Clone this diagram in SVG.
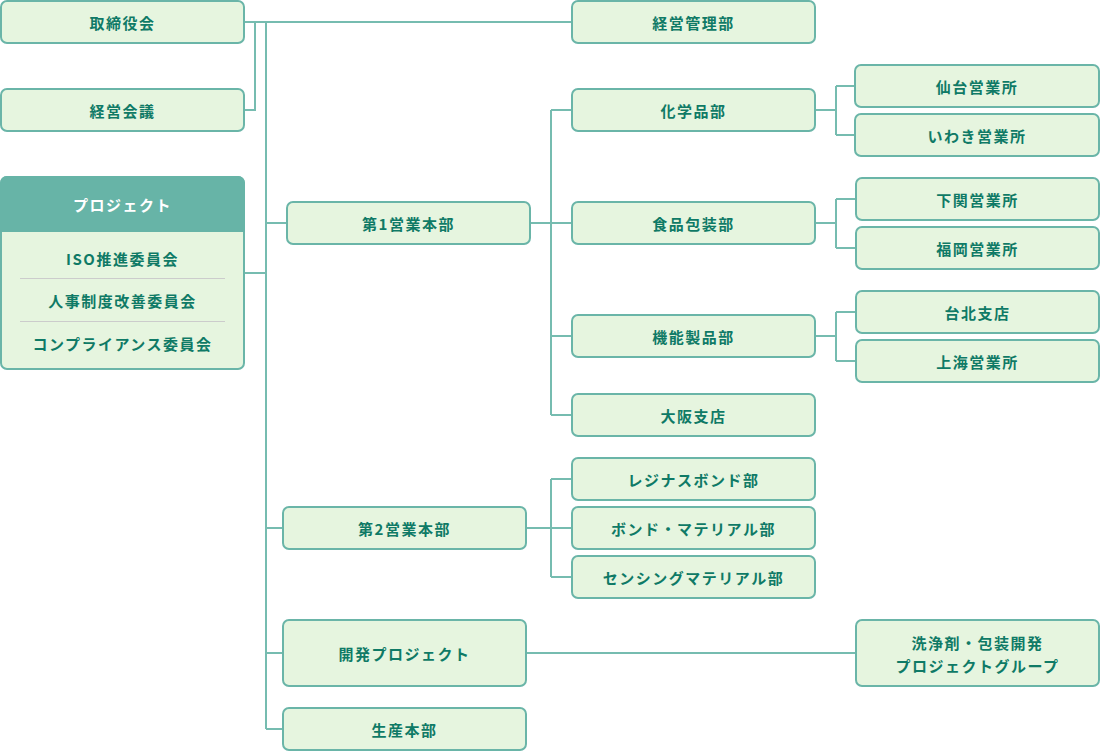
<svg xmlns="http://www.w3.org/2000/svg" width="1100" height="751" viewBox="0 0 1100 751">
<style>
.box{fill:#e6f5df;stroke:#6ab5a8;stroke-width:2}
.t{font-family:"Noto Sans CJK JP","Noto Sans",sans-serif;font-weight:700;font-size:15px;fill:#0f7a66;text-anchor:middle;dominant-baseline:central;letter-spacing:1.5px}
.w{fill:#ffffff}
.ln{fill:none;stroke:#76bcb0;stroke-width:2}
.dv{stroke:#cccccc;stroke-width:1}
</style>
<rect width="1100" height="751" fill="#ffffff"/>
<g id="connectors">
<path class="ln" d="M244 22H572M255 22V110H244M266 22V729"/>
<path class="ln" d="M244 273H266M266 223H287M530 223H572M551 110V415M551 110H572M551 336H572M551 415H572"/>
<path class="ln" d="M815 110H836M836 86V135M836 86H855M836 135H855"/>
<path class="ln" d="M815 223H836M836 199V248M836 199H856M836 248H856"/>
<path class="ln" d="M815 336H836M836 312V361M836 312H856M836 361H856"/>
<path class="ln" d="M266 528H283M526 528H572M551 479V577M551 479H572M551 577H572"/>
<path class="ln" d="M266 653H283M526 653H856M266 729H283"/>
</g>
<g id="torishimariyakukai"><rect class="box" x="1" y="1" width="243" height="42" rx="6"/><text class="t" x="122.5" y="22">取締役会</text></g>
<g id="keieikaigi"><rect class="box" x="1" y="89" width="243" height="42" rx="6"/><text class="t" x="122.5" y="110">経営会議</text></g>
<g id="project">
<rect class="box" x="1" y="177" width="243" height="192" rx="6"/>
<path d="M1 231V183a6 6 0 0 1 6-6H238a6 6 0 0 1 6 6V231Z" fill="#67b4a7" stroke="#67b4a7" stroke-width="2"/>
<text class="t w" x="122.5" y="204">プロジェクト</text>
<text class="t" x="122.5" y="258">ISO推進委員会</text>
<line class="dv" x1="20" y1="278.5" x2="225" y2="278.5"/>
<text class="t" x="122.5" y="300">人事制度改善委員会</text>
<line class="dv" x1="20" y1="321.5" x2="225" y2="321.5"/>
<text class="t" x="122.5" y="343">コンプライアンス委員会</text>
</g>
<g id="keieikanribu"><rect class="box" x="572" y="1" width="243" height="42" rx="6"/><text class="t" x="693.5" y="22">経営管理部</text></g>
<g id="dai1"><rect class="box" x="287" y="202" width="243" height="42" rx="6"/><text class="t" x="408.5" y="223">第1営業本部</text></g>
<g id="kagakuhinbu"><rect class="box" x="572" y="89" width="243" height="42" rx="6"/><text class="t" x="693.5" y="110">化学品部</text></g>
<g id="shokuhin"><rect class="box" x="572" y="202" width="243" height="42" rx="6"/><text class="t" x="693.5" y="223">食品包装部</text></g>
<g id="kinou"><rect class="box" x="572" y="315" width="243" height="42" rx="6"/><text class="t" x="693.5" y="336">機能製品部</text></g>
<g id="osaka"><rect class="box" x="572" y="394" width="243" height="42" rx="6"/><text class="t" x="693.5" y="415">大阪支店</text></g>
<g id="sendai"><rect class="box" x="855" y="65" width="244" height="42" rx="6"/><text class="t" x="977" y="86">仙台営業所</text></g>
<g id="iwaki"><rect class="box" x="855" y="114" width="244" height="42" rx="6"/><text class="t" x="977" y="135">いわき営業所</text></g>
<g id="shimonoseki"><rect class="box" x="856" y="178" width="243" height="42" rx="6"/><text class="t" x="977.5" y="199">下関営業所</text></g>
<g id="fukuoka"><rect class="box" x="856" y="227" width="243" height="42" rx="6"/><text class="t" x="977.5" y="248">福岡営業所</text></g>
<g id="taipei"><rect class="box" x="856" y="291" width="243" height="42" rx="6"/><text class="t" x="977.5" y="312">台北支店</text></g>
<g id="shanghai"><rect class="box" x="856" y="340" width="243" height="42" rx="6"/><text class="t" x="977.5" y="361">上海営業所</text></g>
<g id="dai2"><rect class="box" x="283" y="507" width="243" height="42" rx="6"/><text class="t" x="404.5" y="528">第2営業本部</text></g>
<g id="resinous"><rect class="box" x="572" y="458" width="243" height="42" rx="6"/><text class="t" x="693.5" y="479">レジナスボンド部</text></g>
<g id="bond"><rect class="box" x="572" y="507" width="243" height="42" rx="6"/><text class="t" x="693.5" y="528">ボンド・マテリアル部</text></g>
<g id="sensing"><rect class="box" x="572" y="556" width="243" height="42" rx="6"/><text class="t" x="693.5" y="577">センシングマテリアル部</text></g>
<g id="kaihatsu"><rect class="box" x="283" y="620" width="243" height="66" rx="6"/><text class="t" x="404.5" y="653">開発プロジェクト</text></g>
<g id="senjouzai"><rect class="box" x="856" y="620" width="243" height="66" rx="6"/><text class="t" x="977.5" y="642">洗浄剤・包装開発</text><text class="t" x="977.5" y="665">プロジェクトグループ</text></g>
<g id="seisan"><rect class="box" x="283" y="708" width="243" height="42" rx="6"/><text class="t" x="404.5" y="729">生産本部</text></g>
</svg>
